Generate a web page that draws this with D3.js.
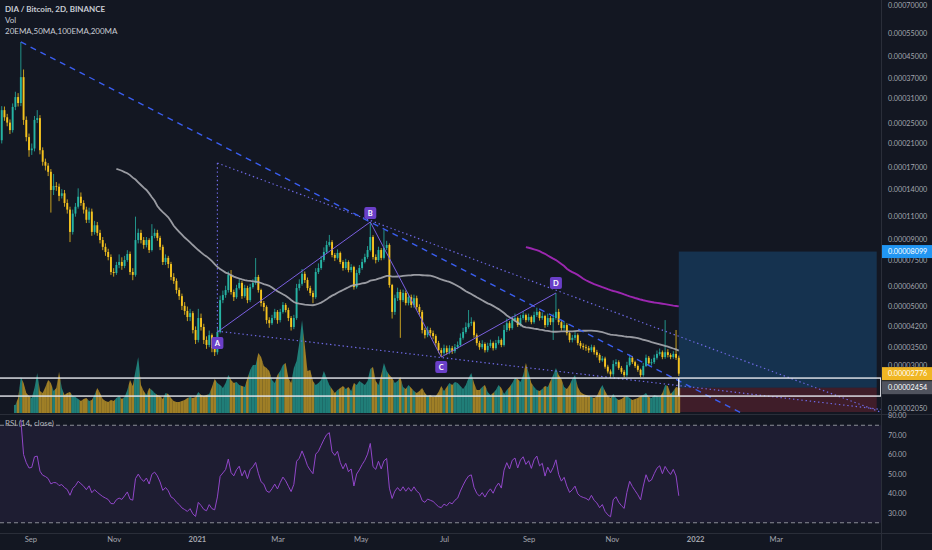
<!DOCTYPE html>
<html>
<head>
<meta charset="utf-8">
<script src="https://cdn.jsdelivr.net/npm/d3@7"></script>
<style>
    html, body { margin: 0; padding: 0; background: #131722; }
    svg { display: block; font-family: "Lato", "DejaVu Sans", sans-serif; }
</style>
</head>
<body>
<svg id="chart" width="932" height="550"></svg>
<script>
// DIA/BTC 2D candles, prices in satoshi
var startDate = "2020-07-28";
var firstOpen = 13000;

var closes = [
    13800,
    14500, 17000, 16200, 19800, 24000, 21500, 28000, 26300, 25100, 23500,
    28800, 31400, 29800, 37400, 25700, 22100, 19700, 20000, 25700, 26100,
    19700, 17800, 17200, 16300, 13900, 14400, 14300, 13200, 13500, 12400,
    11700, 9620, 11300, 12000, 13100, 12400, 11700, 10700, 11500, 9620,
    10200, 9540, 8960, 8440, 8070, 7720, 6770, 6710, 7200, 7390,
    7140, 7520, 7930, 6770, 6600, 8960, 9540, 8960, 8580, 8960,
    8210, 9290, 9540, 9130, 8440, 7390, 7660, 7260, 6480, 6260,
    5780, 5480, 5030, 4810, 4560, 4720, 4070, 3730, 4520, 4180,
    3730, 3570, 3890, 3470, 3350, 4000, 5290, 5530, 5780, 6600,
    5680, 5430, 5880, 6150, 5480, 5880, 5290, 5930, 6150, 6480,
    5780, 5160, 4980, 4440, 4320, 4520, 4770, 4440, 4770, 5070,
    4850, 4520, 4180, 4520, 5880, 6100, 6660, 6310, 5880, 5630,
    5430, 6770, 7010, 7520, 8070, 8580, 8800, 7860, 7660, 8000,
    7390, 7010, 7390, 6890, 7070, 5930, 6710, 7010, 7390, 7720,
    8210, 9200, 7720, 7520, 8210, 7660, 8360, 8580, 6040, 4770,
    5380, 5680, 5290, 5630, 5160, 5430, 5070, 5380, 4980, 4770,
    4070, 3890, 4070, 3960, 3860, 3630, 3410, 3330, 3470, 3350,
    3470, 3380, 3500, 3570, 3800, 4000, 4180, 4320, 4360, 3890,
    3630, 3500, 3600, 3410, 3540, 3630, 3470, 3630, 3730, 3570,
    4070, 4320, 4140, 4440, 4520, 4250, 4520, 4640, 4440, 4560,
    4360, 4640, 4770, 4520, 4600, 4250, 4520, 4360, 4520, 4770,
    4360, 4140, 4250, 3960, 3730, 3800, 3890, 3630, 3540, 3500,
    3470, 3410, 3500, 3350, 3270, 3120, 3170, 2950, 2830, 2760,
    3020, 3070, 2920, 2820, 2740, 2990, 3190, 3070, 2970, 2870,
    2740, 2970, 3190, 3040, 3070, 3190, 3300, 3350, 3210, 3350,
    3270, 3210, 3300, 3190, 2776
];

var highs = [
    14300,
    15200, 17800, 17600, 20700, 25200, 24800, 29000, 28900, 27100, 25800,
    29700, 32900, 32500, 50900, 40000, 26500, 22800, 20900, 26600, 28000,
    26800, 20200, 18300, 17600, 16700, 16000, 14900, 14700, 14000, 13900,
    12800, 12000, 11700, 12400, 14100, 13600, 12700, 12000, 11900, 11800,
    10600, 10500, 9800, 9200, 8700, 8300, 7900, 7000, 7400, 7900,
    7700, 7800, 8200, 8100, 7000, 11000, 9900, 9800, 9200, 9200,
    9100, 10300, 9900, 9800, 9300, 8600, 7900, 7800, 7400, 6700,
    6400, 5900, 5600, 5200, 5000, 4900, 4800, 4200, 4900, 4700,
    4300, 3850, 4050, 3950, 3550, 4150, 5500, 5750, 6000, 6800,
    6890, 5800, 6050, 6400, 6250, 6050, 6000, 6100, 6350, 7650,
    6600, 5850, 5250, 5050, 4550, 4650, 4900, 4850, 4900, 5200,
    5150, 4950, 4600, 4650, 6100, 6350, 6950, 6800, 6450, 6000,
    5750, 7000, 7300, 7800, 8400, 8900, 9370, 8950, 8000, 8250,
    8100, 7500, 7600, 7500, 7250, 7150, 6900, 7200, 7600, 7950,
    8500, 10500, 9350, 7900, 8450, 8350, 9800, 8900, 8700, 6100,
    5550, 5900, 5800, 5800, 5750, 5600, 5550, 5550, 5500, 5100,
    4850, 4150, 4200, 4150, 4050, 3920, 3700, 3480, 3580, 3550,
    3560, 3540, 3600, 3680, 3950, 4150, 4350, 4850, 4550, 4420,
    3950, 3700, 3720, 3650, 3640, 3740, 3680, 3730, 3850, 3780,
    4250, 4500, 4400, 4600, 4700, 4580, 4650, 4800, 4700, 4700,
    4620, 4780, 4950, 4820, 4750, 4650, 4700, 4600, 4700, 5630,
    4900, 4450, 4400, 4320, 4020, 3900, 4000, 3950, 3700, 3620,
    3580, 3540, 3580, 3560, 3420, 3320, 3240, 3220, 3000, 2880,
    3120, 3150, 3120, 2970, 2870, 3080, 3280, 3240, 3110, 3010,
    2900, 3050, 3280, 3240, 3160, 3280, 3400, 3460, 3400, 4440,
    3440, 3320, 3380, 4070, 3250
];

var lows = [
    12800,
    13300, 14000, 15600, 15800, 19300, 18100, 20900, 25500, 24300, 22700,
    23000, 28000, 28900, 29000, 24600, 21300, 18600, 18900, 19500, 25000,
    19000, 17200, 16500, 15700, 11400, 13300, 13800, 12600, 12900, 12000,
    11300, 8800, 9400, 11000, 11800, 12100, 11300, 10400, 10400, 9300,
    9400, 9300, 8700, 8200, 7800, 7500, 6600, 6500, 6600, 7000,
    6900, 7000, 7400, 6600, 6300, 6500, 8700, 8700, 8300, 8400,
    8000, 8100, 9100, 8900, 8200, 7200, 7200, 7000, 6300, 6100,
    5600, 5300, 4850, 4650, 4400, 4400, 3950, 3600, 3650, 4050,
    3600, 3450, 3500, 3350, 3240, 3280, 3950, 5150, 5400, 5650,
    5550, 5250, 5350, 5800, 5350, 5400, 5150, 5200, 5850, 6050,
    5650, 5000, 4800, 4300, 4150, 4250, 4450, 4300, 4350, 4700,
    4750, 4400, 4050, 4100, 4450, 5750, 6000, 6150, 5750, 5500,
    5150, 5350, 6650, 6900, 7400, 7950, 8450, 7700, 7450, 7550,
    7250, 6850, 6900, 6750, 6750, 5800, 5850, 6600, 6900, 7300,
    7600, 8100, 7550, 7300, 7400, 7500, 7550, 8200, 5900, 4500,
    4650, 5250, 3800, 5200, 5050, 5050, 4950, 4950, 4850, 4650,
    3950, 3780, 3820, 3850, 3750, 3520, 3320, 3210, 3270, 3280,
    3290, 3300, 3320, 3440, 3520, 3740, 3940, 4120, 4220, 3800,
    3550, 3420, 3440, 3340, 3350, 3480, 3400, 3420, 3580, 3500,
    3520, 4000, 4050, 4080, 4380, 4180, 4200, 4450, 4350, 4380,
    4280, 4300, 4560, 4420, 4450, 4150, 4180, 4250, 3730, 4450,
    4250, 4050, 4050, 3880, 3650, 3650, 3720, 3560, 3460, 3420,
    3390, 3330, 3350, 3280, 3200, 3050, 3080, 2900, 2780, 2700,
    2700, 2960, 2870, 2770, 2690, 2700, 2950, 3020, 2920, 2820,
    2690, 2700, 2940, 2990, 2980, 3020, 3140, 3250, 3150, 3160,
    3200, 3150, 3160, 3130, 2720
];

// volume in thousands of DIA, the first bars show none
var volumes = [
    null,
    null, null, null, null, null, null, null, null, null, null,
    null, 80, 150, 360, 300, 200, 170, 150, 250, 400,
    220, 200, 260, 330, 300, 220, 250, 410, 250, 180,
    200, 210, 170, 160, 140, 120, 140, 150, 120, 130,
    180, 250, 200, 140, 120, 110, 130, 120, 150, 170,
    140, 160, 230, 330, 270, 420, 560, 280, 220, 180,
    250, 230, 200, 180, 170, 140, 200, 190, 150, 120,
    110, 110, 120, 130, 150, 160, 150, 160, 210, 180,
    170, 180, 190, 260, 340, 300, 280, 250, 300, 380,
    330, 300, 310, 280, 270, 260, 350, 430, 480, 480,
    600, 560, 470, 450, 420, 330, 300, 380, 420, 480,
    500, 350, 300, 450, 520, 700, 930, 680, 420, 430,
    320, 280, 300, 330, 420, 350, 280, 240, 200, 230,
    250, 270, 240, 260, 220, 300, 280, 320, 300, 280,
    320, 440, 460, 320, 280, 380, 500, 420, 380, 350,
    300, 320, 360, 260, 240, 280, 250, 220, 200, 220,
    250, 200, 170, 180, 160, 170, 210, 270, 220, 260,
    300, 280, 310, 300, 270, 240, 280, 350, 400, 300,
    230, 230, 260, 280, 210, 180, 200, 230, 280, 250,
    190, 230, 260, 300, 350, 340, 310, 380, 500, 400,
    300, 260, 230, 220, 240, 270, 260, 320, 380, 450,
    380, 340, 260, 240, 280, 340, 380, 260, 210, 190,
    180, 170, 160, 150, 170, 230, 280, 220, 170, 150,
    190, 150, 130, 140, 160, 170, 150, 130, 140, 150,
    170, 180, 200, 160, 150, 180, 170, 160, 200, 280,
    270, 190, 220, 260, 250
];

var priceTicks = [70000, 55000, 45000, 37000, 31000, 25000, 21000, 17000, 14000, 11000,
    9000, 7500, 6000, 5000, 4200, 3500, 3000, 2050];
var rsiTicks = [80, 70, 60, 50, 40, 30];
var rsiBands = [75, 25];
var legendLines = ["DIA / Bitcoin, 2D, BINANCE", "Vol", "20EMA,50MA,100EMA,200MA"];

// drawings: [date, price]
var trendLine = [["2020-08-25", 50900], ["2021-05-08", 10500]];
var wedgeTop = [["2021-01-16", 17600], ["2022-01-04", 3600]];
var wedgeBottom = [["2021-01-16", 4030], ["2022-01-04", 2447]];
var abcdNames = ["A", "B", "C", "D"];
var abcdDates = ["2021-01-16", "2021-05-08", "2021-06-29", "2021-09-21"];
var abcdPrices = [4000, 10500, 3210, 5630];
var boxDates = ["2020-07-01", "2021-12-20", "2022-05-17"];
var boxPrices = [2280, 2670];
var posDates = ["2021-12-20", "2022-05-14"];
var posTarget = 8099, posEntry = 2454, posStop = 1982;

var W = 932, H = 550;
var axisX = 881, paneBottom = 414, rsiBottom = 533;
var upColor = "#26b3a3", downColor = "#f5c31f";

var parse = d3.utcParse("%Y-%m-%d");
var t0 = parse(startDate);
var dates = closes.map(function (c, i) { return d3.utcDay.offset(t0, 2 * i); });
var opens = closes.map(function (c, i) { return i === 0 ? firstOpen : closes[i - 1]; });

var x = d3.scaleUtc()
    .domain([parse("2020-09-01"), parse("2022-03-01")])
    .range([30.4, 775.7]);
var y = d3.scaleLog().domain([1881, 73570]).range([418, 0]);
var yv = d3.scaleLinear().domain([0, 1000]).range([413, 313]);
var yr = d3.scaleLinear().domain([30, 70]).range([513, 435]);

function sma(values, n) {
    return values.map(function (v, i) {
        if (i < n - 1) return null;
        return d3.mean(values.slice(i - n + 1, i + 1));
    });
}

function rsi(values, n) {
    var out = values.map(function () { return null; });
    var gain = 0, loss = 0, d, i;
    for (i = 1; i <= n; i++) {
        d = values[i] - values[i - 1];
        if (d > 0) gain += d; else loss -= d;
    }
    gain /= n; loss /= n;
    out[n] = 100 - 100 / (1 + gain / loss);
    for (i = n + 1; i < values.length; i++) {
        d = values[i] - values[i - 1];
        gain = (gain * (n - 1) + Math.max(d, 0)) / n;
        loss = (loss * (n - 1) + Math.max(-d, 0)) / n;
        out[i] = loss === 0 ? 100 : 100 - 100 / (1 + gain / loss);
    }
    return out;
}

var svg = d3.select("#chart");
svg.append("rect").attr("width", W).attr("height", H).attr("fill", "#131722");

var defs = svg.append("defs");
defs.append("clipPath").attr("id", "mainClip").append("rect")
    .attr("x", 0).attr("y", 0).attr("width", axisX).attr("height", paneBottom);
defs.append("clipPath").attr("id", "rsiClip").append("rect")
    .attr("x", 0).attr("y", paneBottom + 1).attr("width", axisX).attr("height", rsiBottom - paneBottom - 1);

var main = svg.append("g").attr("clip-path", "url(#mainClip)");

// long position tool
var p0 = x(parse(posDates[0])), p1 = x(parse(posDates[1]));
main.append("rect")
    .attr("x", p0).attr("y", y(posTarget))
    .attr("width", p1 - p0).attr("height", y(posEntry) - y(posTarget))
    .attr("fill", "rgba(33,150,243,0.22)");
main.append("rect")
    .attr("x", p0).attr("y", y(posEntry))
    .attr("width", p1 - p0).attr("height", y(posStop) - y(posEntry))
    .attr("fill", "rgba(242,54,69,0.2)");

// volume as coloured area pieces
var step = x(dates[1]) - x(dates[0]);
var volG = main.append("g");
volumes.forEach(function (v, i) {
    if (v == null) return;
    var xi = x(dates[i]);
    var prev = volumes[i - 1] == null ? v : (volumes[i - 1] + v) / 2;
    var next = i + 1 < volumes.length ? (volumes[i + 1] + v) / 2 : v;
    var pts = [[xi - step / 2, yv(0)], [xi - step / 2, yv(prev)], [xi, yv(v)],
        [xi + step / 2, yv(next)], [xi + step / 2, yv(0)]];
    volG.append("path")
        .attr("d", d3.line()(pts) + "Z")
        .attr("fill", closes[i] >= opens[i] ? "rgba(38,166,154,0.72)" : "rgba(214,168,40,0.72)");
});

// candles
var candles = main.append("g").selectAll("g")
    .data(closes)
    .enter()
    .append("g");
candles.append("line")
    .attr("x1", function (d, i) { return x(dates[i]); })
    .attr("x2", function (d, i) { return x(dates[i]); })
    .attr("y1", function (d, i) { return y(highs[i]); })
    .attr("y2", function (d, i) { return y(lows[i]); })
    .attr("stroke", function (d, i) { return d >= opens[i] ? upColor : downColor; })
    .attr("stroke-width", 0.8);
candles.append("rect")
    .attr("x", function (d, i) { return x(dates[i]) - 0.95; })
    .attr("width", 1.9)
    .attr("y", function (d, i) { return y(Math.max(d, opens[i])); })
    .attr("height", function (d, i) { return Math.max(0.8, y(Math.min(d, opens[i])) - y(Math.max(d, opens[i]))); })
    .attr("fill", function (d, i) { return d >= opens[i] ? upColor : downColor; });

// moving averages
var maLine = d3.line()
    .defined(function (d) { return d != null; })
    .x(function (d, i) { return x(dates[i]); })
    .y(function (d) { return y(d); });
main.append("path").attr("d", maLine(sma(closes, 50)))
    .attr("fill", "none").attr("stroke", "#a8aab0").attr("stroke-width", 1.8).attr("opacity", 0.9);
main.append("path").attr("d", maLine(sma(closes, 200)))
    .attr("fill", "none").attr("stroke", "#9c27b0").attr("stroke-width", 1.9);

function pt(p) { return [x(parse(p[0])), y(p[1])]; }
function ray(a, b) {
    var s = (b[1] - a[1]) / (b[0] - a[0]);
    return [a, [axisX + 20, a[1] + s * (axisX + 20 - a[0])]];
}

// wedge, dotted
var wt = ray(pt(wedgeTop[0]), pt(wedgeTop[1]));
var wb = ray(pt(wedgeBottom[0]), pt(wedgeBottom[1]));
[wt, wb, [pt(wedgeTop[0]), pt(wedgeBottom[0])]].forEach(function (seg) {
    main.append("path").attr("d", d3.line()(seg))
        .attr("fill", "none").attr("stroke", "#6f6ae6")
        .attr("stroke-width", 1.2).attr("stroke-dasharray", "1.4 2.8");
});

// main dashed trend line
main.append("path").attr("d", d3.line()(ray(pt(trendLine[0]), pt(trendLine[1]))))
    .attr("fill", "none").attr("stroke", "#3a5ef0")
    .attr("stroke-width", 1.4).attr("stroke-dasharray", "6 5");

// ABCD
var abcd = abcdDates.map(function (d, i) { return pt([d, abcdPrices[i]]); });
main.append("path").attr("d", d3.line()(abcd))
    .attr("fill", "none").attr("stroke", "#7a5fe0").attr("stroke-width", 1);
var labOff = [11, -9, 10, -10];
abcd.forEach(function (p, i) {
    var g = main.append("g").attr("transform", "translate(" + p[0] + "," + (p[1] + labOff[i]) + ")");
    g.append("rect").attr("x", -6).attr("y", -6).attr("width", 12).attr("height", 12)
        .attr("rx", 2).attr("fill", "#6a3fc8");
    g.append("text").text(abcdNames[i])
        .attr("text-anchor", "middle").attr("dy", "0.35em")
        .attr("fill", "#ffffff").attr("font-size", 7.5).attr("font-weight", 700);
});

// white rectangle drawing
var bx = boxDates.map(function (d) { return x(parse(d)); });
svg.append("rect")
    .attr("x", bx[0]).attr("y", y(boxPrices[1]))
    .attr("width", bx[2] - bx[0]).attr("height", y(boxPrices[0]) - y(boxPrices[1]))
    .attr("fill", "none").attr("stroke", "#e6e8ee").attr("stroke-width", 1.4);
svg.append("line")
    .attr("x1", bx[1]).attr("x2", bx[1])
    .attr("y1", y(boxPrices[1])).attr("y2", y(boxPrices[0]))
    .attr("stroke", "#e6e8ee").attr("stroke-width", 1.4);

// RSI pane
var rsiG = svg.append("g").attr("clip-path", "url(#rsiClip)");
rsiG.append("rect")
    .attr("x", 0).attr("width", axisX)
    .attr("y", yr(rsiBands[0])).attr("height", yr(rsiBands[1]) - yr(rsiBands[0]))
    .attr("fill", "rgba(126,87,194,0.1)");
rsiBands.forEach(function (b) {
    rsiG.append("line").attr("x1", 0).attr("x2", axisX)
        .attr("y1", yr(b)).attr("y2", yr(b))
        .attr("stroke", "#8a8d96").attr("stroke-width", 1).attr("stroke-dasharray", "4 3");
});
var rsiLine = d3.line()
    .defined(function (d) { return d != null; })
    .x(function (d, i) { return x(dates[i]); })
    .y(function (d) { return yr(d); });
rsiG.append("path").attr("d", rsiLine(rsi(closes, 14)))
    .attr("fill", "none").attr("stroke", "#9146c9").attr("stroke-width", 1);
rsiG.append("text").text("RSI (14, close)")
    .attr("x", 5).attr("y", 426)
    .attr("fill", "#b2b5be").attr("font-size", 8);

// separators
svg.append("line").attr("x1", axisX + 0.5).attr("x2", axisX + 0.5).attr("y1", 0).attr("y2", H)
    .attr("stroke", "#2a2e39");
svg.append("line").attr("x1", 0).attr("x2", W).attr("y1", paneBottom + 0.5).attr("y2", paneBottom + 0.5)
    .attr("stroke", "#2a2e39");
svg.append("line").attr("x1", 0).attr("x2", W).attr("y1", rsiBottom + 0.5).attr("y2", rsiBottom + 0.5)
    .attr("stroke", "#2a2e39");

// axes
function styleAxis(g) {
    g.select(".domain").remove();
    g.selectAll("text").attr("fill", "#a3a6af").attr("font-size", 7.2)
        .attr("font-family", "Lato, 'DejaVu Sans', sans-serif");
}
svg.append("g")
    .attr("transform", "translate(" + (axisX + 3) + ",0)")
    .call(d3.axisRight(y).tickValues(priceTicks).tickSize(0).tickPadding(4)
        .tickFormat(function (v) { return (v / 1e8).toFixed(8); }))
    .call(styleAxis);
svg.append("g")
    .attr("transform", "translate(" + (axisX + 3) + ",0)")
    .call(d3.axisRight(yr).tickValues(rsiTicks).tickSize(0).tickPadding(4).tickFormat(d3.format(".2f")))
    .call(styleAxis);
svg.append("g")
    .attr("transform", "translate(0," + rsiBottom + ")")
    .call(d3.axisBottom(x)
        .tickValues(d3.utcMonth.every(2).range(parse("2020-09-01"), parse("2022-03-02")))
        .tickSize(0).tickPadding(4)
        .tickFormat(function (d) { return d.getUTCMonth() === 0 ? d.getUTCFullYear() : d3.utcFormat("%b")(d); }))
    .call(styleAxis)
    .selectAll("text")
    .attr("font-size", 7.6)
    .attr("font-weight", function (d) { return d.getUTCMonth() === 0 ? 700 : 400; });

// price tags on the scale
var tags = [[posTarget, "#2196f3"], [posEntry, "#50535e"], [closes[closes.length - 1], "#f0b624"]];
tags.forEach(function (t) {
    var ty = y(t[0]);
    svg.append("rect").attr("x", axisX + 1).attr("y", ty - 6.5).attr("width", W - axisX - 1).attr("height", 13)
        .attr("fill", t[1]);
    svg.append("text").text((t[0] / 1e8).toFixed(8))
        .attr("x", axisX + 7).attr("y", ty).attr("dy", "0.35em")
        .attr("fill", "#ffffff").attr("font-size", 7.2);
});

// legend
legendLines.forEach(function (s, i) {
    svg.append("text").text(s)
        .attr("x", 5).attr("y", 12 + i * 10.8)
        .attr("fill", "#c9ccd4").attr("font-size", 8)
        .attr("font-weight", i === 0 ? 700 : 400);
});
</script>
</body>
</html>
